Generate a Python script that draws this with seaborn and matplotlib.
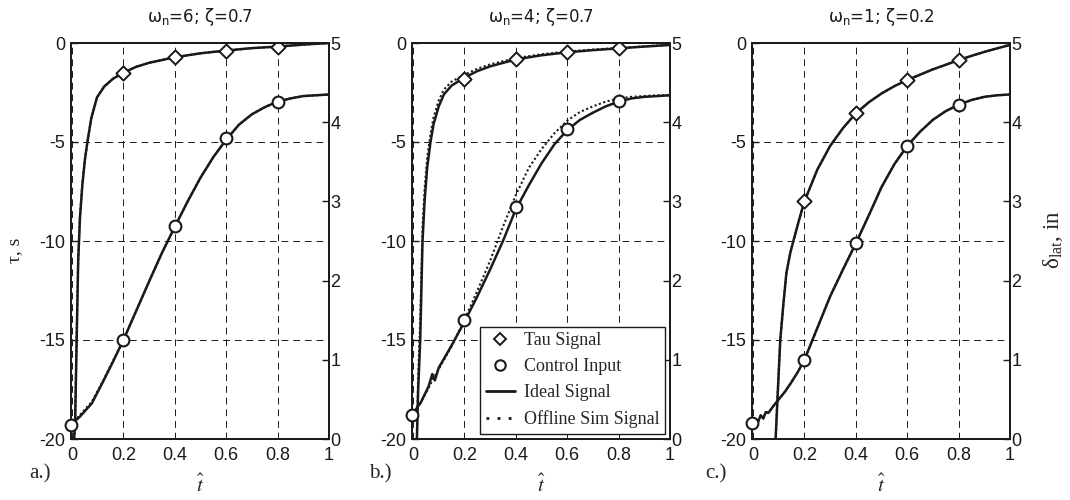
import matplotlib
matplotlib.use("Agg")
import matplotlib.pyplot as plt
import seaborn as sns
from matplotlib.lines import Line2D

# ---------------- data ----------------
titles = ["ω$_\\mathregular{n}$=6; ζ=0.7", "ω$_\\mathregular{n}$=4; ζ=0.7", "ω$_\\mathregular{n}$=1; ζ=0.2"]
panel_tags = ["a.)", "b.)", "c.)"]
x_ticks = [0, 0.2, 0.4, 0.6, 0.8, 1]
x_ticklabels = ["0", "0.2", "0.4", "0.6", "0.8", "1"]
tau_ticks = [-20, -15, -10, -5, 0]
ctl_ticks = [0, 1, 2, 3, 4, 5]

tau_mk_t = [0.2, 0.4, 0.6, 0.8]
ctl_mk_t = [-0.005, 0.2, 0.4, 0.6, 0.8]

# a.)
a_tau_t = [0.008, 0.012, 0.018, 0.024, 0.031, 0.04, 0.05, 0.061, 0.075, 0.097, 0.125, 0.16, 0.2, 0.25, 0.3, 0.4, 0.5, 0.6, 0.7, 0.8, 0.9, 1.0]
a_tau = [-20, -19.2, -15, -11, -8.8, -7.2, -5.9, -4.9, -3.8, -2.75, -2.2, -1.8, -1.5, -1.2, -1.0, -0.72, -0.52, -0.38, -0.26, -0.18, -0.08, 0]
a_tau_sim = [-20, -19, -14.8, -10.9, -8.7, -7.1, -5.9, -4.9, -3.8, -2.75, -2.2, -1.8, -1.5, -1.2, -1.0, -0.72, -0.52, -0.38, -0.26, -0.18, -0.08, 0]
a_ctl_t = [-0.005, 0.03, 0.077, 0.12, 0.16, 0.2, 0.25, 0.3, 0.35, 0.4, 0.45, 0.5, 0.55, 0.6, 0.65, 0.7, 0.75, 0.8, 0.85, 0.9, 0.95, 1.0]
a_ctl = [0.18, 0.28, 0.45, 0.72, 0.98, 1.25, 1.62, 1.99, 2.35, 2.68, 3.0, 3.3, 3.56, 3.78, 3.97, 4.1, 4.19, 4.26, 4.3, 4.33, 4.34, 4.35]
a_ctl_sim = [0.18, 0.3, 0.47, 0.73, 0.99, 1.25, 1.62, 1.99, 2.35, 2.68, 3.0, 3.3, 3.56, 3.78, 3.97, 4.1, 4.19, 4.26, 4.3, 4.33, 4.34, 4.35]
a_tau_mk = [-1.5, -0.7, -0.39, -0.19]
a_ctl_mk = [0.18, 1.25, 2.69, 3.8, 4.26]

# b.)
b_tau_t = [0.015, 0.02, 0.028, 0.037, 0.045, 0.055, 0.068, 0.08, 0.1, 0.12, 0.15, 0.2, 0.25, 0.3, 0.4, 0.5, 0.6, 0.7, 0.8, 0.9, 1.0]
b_tau = [-20, -17.5, -15, -10, -8, -6.3, -5, -4.1, -3.2, -2.6, -2.15, -1.75, -1.42, -1.18, -0.83, -0.62, -0.47, -0.36, -0.27, -0.18, -0.1]
b_tau_sim = [-20, -16.8, -14, -9.3, -7.4, -5.8, -4.6, -3.75, -2.9, -2.35, -1.95, -1.6, -1.3, -1.08, -0.76, -0.57, -0.43, -0.33, -0.25, -0.17, -0.09]
b_ctl_t = [-0.005, 0.03, 0.06, 0.075, 0.085, 0.1, 0.15, 0.2, 0.25, 0.3, 0.35, 0.4, 0.45, 0.5, 0.55, 0.6, 0.65, 0.7, 0.75, 0.8, 0.85, 0.9, 0.95, 1.0]
b_ctl = [0.3, 0.46, 0.66, 0.82, 0.74, 0.9, 1.18, 1.48, 1.8, 2.14, 2.5, 2.9, 3.2, 3.48, 3.72, 3.9, 4.03, 4.12, 4.2, 4.26, 4.3, 4.32, 4.33, 4.34]
b_ctl_sim = [0.3, 0.46, 0.64, 0.74, 0.8, 0.88, 1.17, 1.5, 1.87, 2.25, 2.68, 3.08, 3.42, 3.66, 3.86, 4.02, 4.13, 4.2, 4.26, 4.3, 4.32, 4.33, 4.34, 4.34]
b_tau_mk = [-1.8, -0.82, -0.47, -0.27]
b_ctl_mk = [0.3, 1.5, 2.93, 3.91, 4.27]

# c.)
c_tau_t = [0.088, 0.095, 0.106, 0.118, 0.13, 0.145, 0.158, 0.18, 0.2, 0.25, 0.3, 0.35, 0.4, 0.45, 0.5, 0.55, 0.6, 0.65, 0.7, 0.75, 0.8, 0.85, 0.9, 0.95, 1.0]
c_tau = [-20, -18, -15, -13.2, -11.6, -10.6, -9.95, -8.9, -8.0, -6.4, -5.2, -4.3, -3.55, -3.0, -2.55, -2.18, -1.87, -1.6, -1.33, -1.1, -0.86, -0.65, -0.45, -0.27, -0.1]
c_tau_sim = [-20, -18, -15, -13.2, -11.6, -10.6, -9.95, -8.9, -8.0, -6.4, -5.2, -4.3, -3.55, -3.0, -2.55, -2.18, -1.87, -1.6, -1.33, -1.1, -0.86, -0.65, -0.45, -0.27, -0.1]
c_ctl_t = [-0.005, 0.01, 0.02, 0.03, 0.04, 0.05, 0.06, 0.08, 0.1, 0.125, 0.15, 0.175, 0.2, 0.25, 0.3, 0.35, 0.4, 0.45, 0.5, 0.55, 0.6, 0.65, 0.7, 0.75, 0.8, 0.85, 0.9, 0.95, 1.0]
c_ctl = [0.2, 0.25, 0.22, 0.3, 0.26, 0.34, 0.33, 0.42, 0.5, 0.6, 0.72, 0.85, 1.0, 1.4, 1.8, 2.14, 2.47, 2.82, 3.18, 3.47, 3.7, 3.88, 4.03, 4.14, 4.22, 4.28, 4.32, 4.34, 4.35]
c_ctl_sim = c_ctl
c_tau_mk = [-8.0, -3.55, -1.87, -0.86]
c_ctl_mk = [0.2, 1.0, 2.47, 3.7, 4.22]

panels = [
    (a_tau_t, a_tau, a_tau_sim, a_ctl_t, a_ctl, a_ctl_sim, a_tau_mk, a_ctl_mk),
    (b_tau_t, b_tau, b_tau_sim, b_ctl_t, b_ctl, b_ctl_sim, b_tau_mk, b_ctl_mk),
    (c_tau_t, c_tau, c_tau_sim, c_ctl_t, c_ctl, c_ctl_sim, c_tau_mk, c_ctl_mk),
]

# ---------------- style ----------------
sns.set_theme(style="white")
plt.rcParams["font.family"] = ["Liberation Sans", "DejaVu Sans"]
plt.rcParams["axes.unicode_minus"] = False
plt.rcParams["axes.edgecolor"] = "black"
plt.rcParams["axes.linewidth"] = 1.3

W, H = 1070, 500
fig = plt.figure(figsize=(W / 100, H / 100), dpi=100)
lefts = [71, 412, 752]
ax_w, ax_top, ax_bot = 258, 43, 439

sim_ls = (0, (1, 1.2))
for i, (tt, tau, tau_sim, ct, ctl, ctl_sim, tau_mk, ctl_mk) in enumerate(panels):
    ax = fig.add_axes([lefts[i] / W, 1 - ax_bot / H, ax_w / W, (ax_bot - ax_top) / H])
    ax2 = ax.twinx()

    # tau signal (left axis)
    sns.lineplot(x=tt, y=tau_sim, ax=ax, color="k", lw=1.5, linestyle=sim_ls)
    sns.lineplot(x=tt, y=tau, ax=ax, color="k", lw=1.8)
    sns.scatterplot(x=tau_mk_t, y=tau_mk, ax=ax, marker="D", s=52, color="white",
                    edgecolor="k", linewidth=1.4, zorder=5)

    # control input (right axis)
    sns.lineplot(x=ct, y=ctl_sim, ax=ax2, color="k", lw=1.5, linestyle=sim_ls)
    sns.lineplot(x=ct, y=ctl, ax=ax2, color="k", lw=1.8)
    sns.scatterplot(x=ctl_mk_t, y=ctl_mk, ax=ax2, marker="o", s=72, color="white",
                    edgecolor="k", linewidth=1.5, zorder=5, clip_on=False)

    ax.set_xlim(-0.004, 1)
    ax.set_ylim(-20, 0)
    ax2.set_ylim(0, 5)
    ax.set_xticks(x_ticks)
    ax.set_xticklabels(x_ticklabels)
    ax.set_yticks(tau_ticks)
    ax2.set_yticks(ctl_ticks)
    ax.grid(True, color="k", lw=0.7, linestyle=(0, (7, 5)))
    ax.tick_params(direction="in", length=5, width=1, labelsize=13, pad=4, colors="k")
    ax.tick_params(axis="x", pad=6)
    ax2.tick_params(direction="in", length=5, width=1, labelsize=13, pad=1, colors="k")
    ax.set_xlabel("")
    ax.set_ylabel("")
    ax2.set_ylabel("")
    for sp in list(ax.spines.values()) + list(ax2.spines.values()):
        sp.set_color("k")
        sp.set_linewidth(1.3)

    ax.set_title(titles[i], fontsize=12, pad=15, color="k", family="DejaVu Sans")

    cx = (lefts[i] + ax_w / 2) / W
    fig.text(cx, 1 - 485 / H, r"$\hat{t}$", math_fontfamily="stix", fontsize=15,
             ha="center", va="center")

    if i == 1:
        handles = [
            Line2D([], [], ls="none", marker="D", ms=6, mfc="white", mec="k", mew=1.4),
            Line2D([], [], ls="none", marker="o", ms=7.5, mfc="white", mec="k", mew=1.5),
            Line2D([], [], color="k", lw=2),
            Line2D([], [], color="k", lw=2, linestyle=(0, (1, 3))),
        ]
        labels = ["Tau Signal", "Control Input", "Ideal Signal", "Offline Sim Signal"]
        leg = ax2.legend(handles, labels, loc="lower right", borderaxespad=0.3,
                         prop={"family": "Liberation Serif", "size": 13},
                         handlelength=1.6, handletextpad=0.5, labelspacing=0.5,
                         borderpad=0.3, fancybox=False, framealpha=1, edgecolor="k")
        leg.get_frame().set_linewidth(1.0)

tag_x = [40, 380, 716]
for x, tag in zip(tag_x, panel_tags):
    fig.text(x / W, 1 - 474 / H, tag, family="Liberation Serif", fontsize=15,
             ha="center", va="center")

fig.text(15 / W, 1 - 250 / H, "τ, s", family="Liberation Serif", fontsize=14,
         rotation=90, ha="center", va="center")
fig.text(1053 / W, 1 - 240 / H, "δ$_\\mathregular{lat}$, in", family="Liberation Serif",
         fontsize=16.5, rotation=90, ha="center", va="center")

fig.savefig("out.png", dpi=100)
